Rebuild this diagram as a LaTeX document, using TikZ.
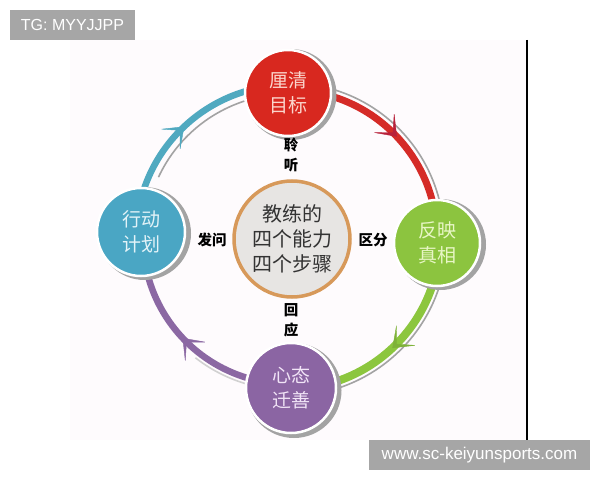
\documentclass[tikz,border=0pt]{standalone}
\usepackage{fontspec}
\newfontfamily\cjk{Noto Sans CJK SC}
\newfontfamily\wm{Liberation Sans}
\usetikzlibrary{arrows.meta,decorations.markings,calc}
\definecolor{redc}{HTML}{D8281F}
\definecolor{redarc}{HTML}{D52B27}
\definecolor{redhead}{HTML}{B8213A}
\definecolor{redt}{HTML}{FBD5CC}
\definecolor{greenc}{HTML}{8CC43F}
\definecolor{greenarc}{HTML}{8CC63E}
\definecolor{greent}{HTML}{E8F6C6}
\definecolor{bluec}{HTML}{4AA6C4}
\definecolor{bluearc}{HTML}{50A9C0}
\definecolor{bluet}{HTML}{E3F3F8}
\definecolor{purplec}{HTML}{8B65A3}
\definecolor{purplearc}{HTML}{8B68A3}
\definecolor{purplet}{HTML}{F1E4F7}
\definecolor{centerfill}{HTML}{E7E5E3}
\definecolor{centerdraw}{HTML}{D7995A}
\definecolor{shadowgray}{HTML}{A3A3A3}
\definecolor{tint}{HTML}{FEFBFD}
\definecolor{boxgray}{HTML}{A6A6A6}
\tikzset{
  bub/.style={circle, draw=white, line width=2.5pt, inner sep=0pt, align=center,
    font=\cjk\fontsize{19}{25}\selectfont},
  ringarc/.style={line width=#1, line cap=butt},
  midarrow/.style={postaction={decorate, decoration={markings,
    mark=at position 0.52 with {\arrow{Stealth[length=20pt,width=30pt,inset=14pt,line width=0.4pt,#1]}}}}},
  lbl/.style={font=\cjk\bfseries\fontsize{14.5}{20}\selectfont, align=center, text=black},
  wmbox/.style={fill=boxgray, text=white, inner sep=0pt, font=\wm\fontsize{16}{18}\selectfont},
  shadowarc/.style={draw=shadowgray, line width=1.6pt}
}
\begin{document}
\begin{tikzpicture}[x=1pt,y=1pt]
\useasboundingbox (0,0) rectangle (600,480);
\fill[white] (0,0) rectangle (600,480);
\fill[tint] (70,40) rectangle (526,440);
\coordinate (C) at (289,242);
% shadow arcs
\draw[shadowarc] (C) ++(75:155) arc[start angle=75, end angle=12, radius=155];
\draw[shadowarc] (C) ++(-12:158) arc[start angle=-12, end angle=-72, radius=158];
\draw[shadowarc] (C) ++(155:144) arc[start angle=155, end angle=108, radius=144];
\draw[shadowarc, draw=shadowgray!50] (C) ++(232:152) arc[start angle=232, end angle=256, radius=152];
% coloured arcs
\draw[ringarc=7pt, draw=redarc, midarrow={color=redhead}] (C) ++(90:148) arc[start angle=90, end angle=0, radius=148];
\draw[ringarc=8pt, draw=greenarc, midarrow={color=greenarc!90!black}] (C) ++(0:151) arc[start angle=0, end angle=-90, radius=151];
\draw[ringarc=6.5pt, draw=purplearc, midarrow={color=purplearc}] (C) ++(-90:146) arc[start angle=-90, end angle=-180, radius=146];
\draw[ringarc=6.5pt, draw=bluearc, midarrow={color=bluearc}] (C) ++(180:153) arc[start angle=180, end angle=90, radius=153];
% circle positions
\coordinate (pR) at (288,387);
\coordinate (pG) at (437,237);
\coordinate (pP) at (291,92);
\coordinate (pB) at (141,248);
% circle shadows
\fill[shadowgray] ([shift={(3,-1.5)}]pR) circle[radius=45.5];
\fill[shadowgray] ([shift={(3.5,-1.5)}]pG) circle[radius=45.5];
\fill[shadowgray] ([shift={(3,-2.5)}]pP) circle[radius=47.5];
\fill[shadowgray] ([shift={(3.5,-1.5)}]pB) circle[radius=46.5];
% circles
\node[bub, fill=redc, text=redt, minimum size=86pt] (R) at (pR) {厘清\\目标};
\node[bub, fill=greenc, text=greent, minimum size=86pt] (G) at (pG) {反映\\真相};
\node[bub, fill=purplec, text=purplet, minimum size=90pt] (P) at (pP) {心态\\迁善};
\node[bub, fill=bluec, text=bluet, minimum size=88pt] (B) at (pB) {行动\\计划};
% centre
\node[circle, fill=centerfill, draw=centerdraw, line width=3.5pt, minimum size=116pt, inner sep=0pt,
  align=center, text=black!80, font=\cjk\fontsize{20}{25}\selectfont] (M) at (292,241) {教练的\\四个能力\\四个步骤};
% labels
\node[lbl] (l1) at (291,325) {聆\\听};
\node[lbl] (l2) at (291,160) {回\\应};
\node[lbl] (l3) at (212,240) {发问};
\node[lbl] (l4) at (373,240) {区分};
% black line
\coordinate (lt) at (527,440);
\coordinate (lb) at (527,40);
\draw[line width=2.2pt, black] (lt) -- (lb);
% watermarks
\node[wmbox, minimum width=125pt, minimum height=30pt] (w1) at (72.5,455) {TG: MYYJJPP};
\node[wmbox, minimum width=221pt, minimum height=30pt, font=\wm\fontsize{17}{18}\selectfont] (w2) at (479.5,25) {www.sc-keiyunsports.com};
\end{tikzpicture}
\end{document}
